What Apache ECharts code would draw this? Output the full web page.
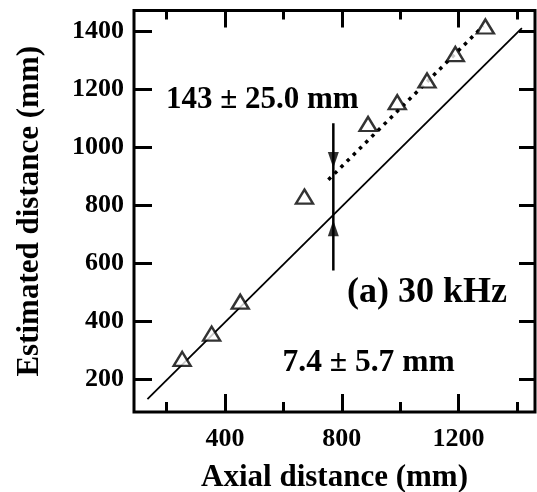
<!DOCTYPE html>
<html>
<head>
<meta charset="utf-8">
<script src="https://cdn.jsdelivr.net/npm/echarts@6/dist/echarts.min.js"></script>
<style>
  html, body { margin: 0; padding: 0; background: #fff; overflow: hidden; }
  #chart { width: 537px; height: 492px; }
</style>
</head>
<body>
<div id="chart"></div>
<script>
// Measured points: axial distance vs. estimated distance (mm)
const axialDistance    = [253, 354, 452, 672, 890, 990, 1092, 1189, 1292];
const estimatedDistance = [270, 357, 467, 829, 1079, 1154, 1229, 1320, 1415];

// Ideal line (solid) and offset fit (dotted), as end points
const idealLineX = [134, 1417];
const idealLineY = [131, 1409];
const offsetLineX = [754, 1285];
const offsetLineY = [887, 1417];

// Offset marker: shaft and the two arrow heads
const markerX = 771;
const markerShaftY = [574, 1082];
const markerHeadDownY = 955;
const markerHeadUpY = 720;

// Axis ranges and tick positions
const xRange = [88, 1462];
const yRange = [87, 1470];
const xMajorTicks = [400, 800, 1200];
const xMinorTicks = [200, 600, 1000, 1400];
const yTicks = [200, 400, 600, 800, 1000, 1200, 1400];

const FONT = '"Liberation Serif", "Times New Roman", serif';

const pairs = (xs, ys) => xs.map((x, i) => [x, ys[i]]);
const plain = v => String(Math.round(v));

const chart = echarts.init(document.getElementById('chart'), null, { renderer: 'canvas', width: 537, height: 492 });

const tickStyle = { color: '#000', width: 3 };

function xAxisDef(position, ticks, len, withLabels) {
  return {
    type: 'value', position: position, min: xRange[0], max: xRange[1],
    axisLine: { show: false },
    splitLine: { show: false },
    axisTick: { show: true, inside: true, length: len, customValues: ticks, lineStyle: tickStyle },
    axisLabel: withLabels ? {
      show: true, customValues: ticks, margin: 14, formatter: plain,
      fontFamily: FONT, fontWeight: 'bold', fontSize: 26, color: '#000'
    } : { show: false }
  };
}

function yAxisDef(position, withLabels) {
  return {
    type: 'value', position: position, min: yRange[0], max: yRange[1],
    axisLine: { show: false },
    splitLine: { show: false },
    axisTick: { show: true, inside: true, length: position === 'left' ? 18 : 16, customValues: yTicks, lineStyle: tickStyle },
    axisLabel: withLabels ? {
      show: true, customValues: yTicks, margin: 10, formatter: plain,
      fontFamily: FONT, fontWeight: 'bold', fontSize: 26, color: '#000'
    } : { show: false }
  };
}

const xMain = xAxisDef('bottom', xMajorTicks, 18, true);
xMain.name = 'Axial distance (mm)';
xMain.nameLocation = 'middle';
xMain.nameGap = 50;
xMain.nameTextStyle = { fontFamily: FONT, fontWeight: 'bold', fontSize: 31, color: '#000' };

const yMain = yAxisDef('left', true);
yMain.name = 'Estimated distance (mm)';
yMain.nameLocation = 'middle';
yMain.nameGap = 89;
yMain.nameTextStyle = { fontFamily: FONT, fontWeight: 'bold', fontSize: 31, color: '#000' };

const option = {
  animation: false,
  backgroundColor: '#fff',
  grid: {
    left: 134, right: 2, top: 10.5, bottom: 80,
    outerBoundsMode: 'none', containLabel: false,
    show: true, borderColor: '#000', borderWidth: 3, backgroundColor: 'transparent'
  },
  xAxis: [
    xMain,
    xAxisDef('bottom', xMinorTicks, 10, false),
    xAxisDef('top', xMajorTicks, 17, false),
    xAxisDef('top', xMinorTicks, 9, false)
  ],
  yAxis: [
    yMain,
    yAxisDef('right', false)
  ],
  series: [
    {
      name: 'ideal', type: 'line', xAxisIndex: 0, yAxisIndex: 0,
      data: pairs(idealLineX, idealLineY),
      symbol: 'none', silent: true, z: 2,
      lineStyle: { color: '#000', width: 1.8 }
    },
    {
      name: 'offset', type: 'line', xAxisIndex: 0, yAxisIndex: 0,
      data: pairs(offsetLineX, offsetLineY),
      symbol: 'none', silent: true, z: 2,
      lineStyle: { color: '#000', width: 3.5, type: [3.5, 5.2], cap: 'butt' }
    },
    {
      name: 'shaft', type: 'line', xAxisIndex: 0, yAxisIndex: 0,
      data: markerShaftY.map(y => [markerX, y]),
      symbol: 'none', silent: true, z: 3,
      lineStyle: { color: '#000', width: 2.5 }
    },
    {
      name: 'heads', type: 'scatter', xAxisIndex: 0, yAxisIndex: 0,
      symbol: 'triangle', symbolSize: [11, 16], silent: true, z: 4,
      itemStyle: { color: '#000' },
      data: [
        { value: [markerX, markerHeadDownY], symbolRotate: 180 },
        { value: [markerX, markerHeadUpY] }
      ]
    },
    {
      name: 'measured', type: 'scatter', xAxisIndex: 0, yAxisIndex: 0,
      symbol: 'triangle', symbolSize: [17, 14], silent: true, z: 5,
      itemStyle: { color: '#fff', borderColor: '#000', borderWidth: 2.4 },
      data: pairs(axialDistance, estimatedDistance)
    }
  ],
  graphic: [
    {
      type: 'text', left: 166, top: 84, z: 10,
      style: { text: '143 ± 25.0 mm', font: 'bold 31px ' + FONT, fill: '#000' }
    },
    {
      type: 'text', left: 347, top: 275, z: 10,
      style: { text: '(a) 30 kHz', font: 'bold 36px ' + FONT, fill: '#000' }
    },
    {
      type: 'text', left: 282.5, top: 347, z: 10,
      style: { text: '7.4 ± 5.7 mm', font: 'bold 31.5px ' + FONT, fill: '#000' }
    }
  ]
};

chart.setOption(option);
</script>
</body>
</html>
